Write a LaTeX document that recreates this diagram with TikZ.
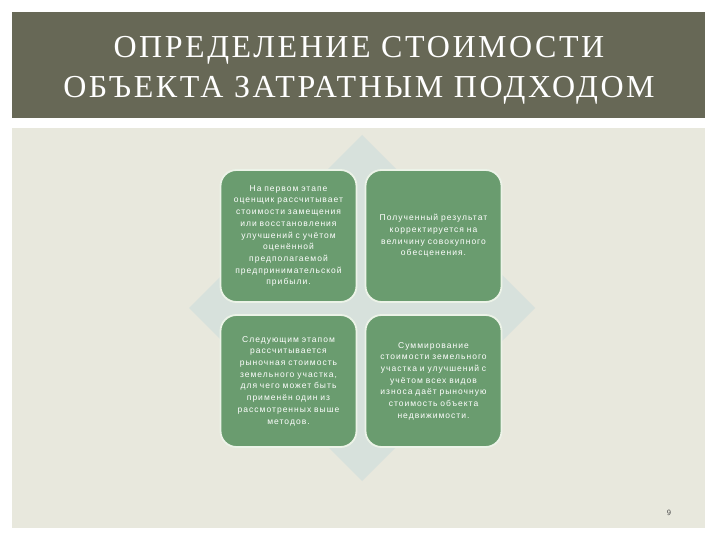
\documentclass[tikz,border=0pt]{standalone}
\usepackage{fontspec}
\setmainfont{Liberation Serif}
\newfontfamily\boxfont[LetterSpace=12]{Liberation Sans}
\newfontfamily\titlefont[LetterSpace=8]{Liberation Serif}
\usetikzlibrary{positioning}
\definecolor{bandgrey}{RGB}{103,104,86}
\definecolor{panelgrey}{RGB}{232,232,221}
\definecolor{diamondgrey}{RGB}{215,225,220}
\definecolor{boxgreen}{RGB}{106,156,111}
\definecolor{boxedge}{RGB}{236,243,232}

\begin{document}
\begin{tikzpicture}[x=1pt,y=1pt,node distance=145pt,on grid]
  \useasboundingbox (0,0) rectangle (720,-540);
  \fill[white] (0,0) rectangle (720,-540);
  \fill[bandgrey] (12,-12) rectangle (705,-118);
  \fill[panelgrey] (12,-128) rectangle (705,-528);
  \fill[diamondgrey] (362,-135) -- (535,-308) -- (362,-481) -- (189,-308) -- cycle;
\tikzset{titletext/.style={text=white,font=\titlefont\fontsize{32}{36}\selectfont}}
\tikzset{stepbox/.style={draw=boxedge,line width=1.8pt,fill=boxgreen,rounded corners=16pt,
  minimum width=136pt,minimum height=132pt,text width=124pt,align=center,inner sep=0pt,
  text=white,font=\boxfont\fontsize{8.5}{11.7}\selectfont}}
  \node[titletext]   (T1) at (359,-50)  {ОПРЕДЕЛЕНИЕ СТОИМОСТИ};
  \node[titletext]   (T2) [below =40pt of T1] {ОБЪЕКТА ЗАТРАТНЫМ ПОДХОДОМ};
  \node[stepbox]     (A) at (288.5,-236) {На первом этапе\\оценщик рассчитывает\\стоимости замещения\\или восстановления\\улучшений с учётом\\оценённой\\предполагаемой\\предпринимательской\\прибыли.};
  \node[stepbox]     (B) [right =of A] {Полученный результат\\корректируется на\\величину совокупного\\обесценения.};
  \node[stepbox]     (C) [below =of A] {Следующим этапом\\рассчитывается\\рыночная стоимость\\земельного участка,\\для чего может быть\\применён один из\\рассмотренных выше\\методов.};
  \node[stepbox]     (D) [right =of C] {Суммирование\\стоимости земельного\\участка и улучшений с\\учётом всех видов\\износа даёт рыночную\\стоимость объекта\\недвижимости.};
  \node[text=black!70,font=\sffamily\fontsize{8}{10}\selectfont] (P) at (669,-513) {9};
\end{tikzpicture}
\end{document}
